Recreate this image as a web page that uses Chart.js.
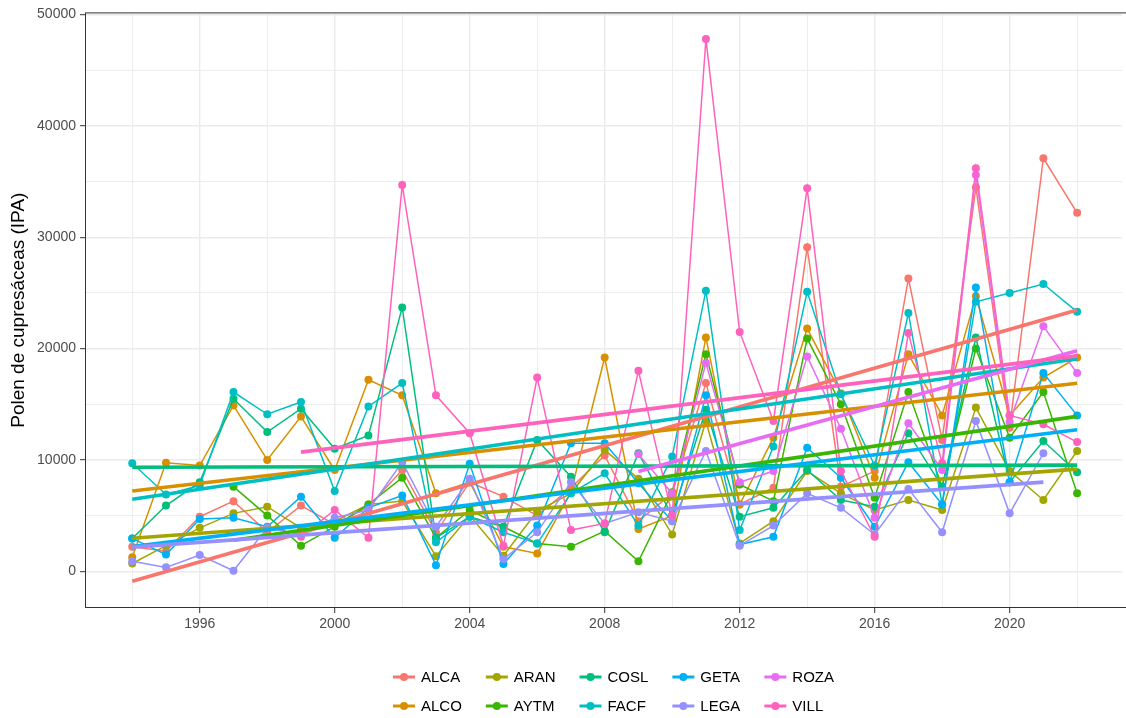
<!DOCTYPE html>
<html>
<head>
    <title>Polen de cupresáceas</title>
    <meta charset="UTF-8">
    <script src="https://cdn.jsdelivr.net/npm/chart.js"></script>
    <style>
        html, body { margin: 0; padding: 0; background: #fff; }
    </style>
</head>
<body>
    <canvas id="polenChart" width="1126" height="718"></canvas>

    <script>
        // years on the x axis
        const years = [1994, 1995, 1996, 1997, 1998, 1999, 2000, 2001, 2002, 2003, 2004, 2005, 2006, 2007, 2008,
                       2009, 2010, 2011, 2012, 2013, 2014, 2015, 2016, 2017, 2018, 2019, 2020, 2021, 2022];

        // pollen index per station (null = no data that year)
        const ALCA = [2200, 1800, 4900, 6300, 3500, 5900, 4200, 5800, 9100, 3500, 8000, 6700, 5000, 7500, 10400,
                      4500, 7000, 16900, 6000, 7500, 29100, 7600, 9000, 26300, 11800, 34500, 12900, 37100, 32200];
        const ALCO = [1250, 9750, 9500, 14900, 10000, 13900, 9100, 17200, 15800, 7000, 8000, 2200, 1600, 7100, 19200,
                      3800, 5000, 21000, 6000, 12000, 21800, 16000, 8400, 19500, 14000, 24700, 14000, 17400, 19200];
        const ARAN = [700, 2300, 3900, 5200, 5800, 3900, 4500, 6000, 6300, 1350, 5000, 1400, 5400, 7000, 10900,
                      8300, 3300, 13500, 2500, 4500, 9000, 7000, 5500, 6400, 5500, 14700, 9000, 6400, 10800];
        const AYTM = [null, null, null, 7600, 5000, 2300, 4000, 6000, 8400, 3000, 5500, 4000, 2500, 2200, 3600,
                      900, 7100, 19500, 7800, 6300, 20900, 15000, 6600, 16100, 7600, 20000, 12000, 16100, 7000];
        const COSL = [2950, 5900, 8000, 15500, 12500, 14600, 11000, 12200, 23700, 3000, 4900, 4000, 11800, 8500, 3500,
                      10600, 5000, 14500, 4900, 5700, 9100, 6400, 5800, 12400, 7600, 21000, 8000, 11700, 8900];
        const FACF = [9700, 6900, 7700, 16100, 14100, 15200, 7200, 14800, 16900, 2600, 4900, 3500, 2500, 7000, 8800,
                      4100, 10300, 25200, 3700, 11200, 25100, 15900, 9500, 23200, 6000, 24200, 25000, 25800, 23300];
        const GETA = [2950, 1500, 4700, 4800, 4000, 6700, 3000, 5700, 6800, 550, 9650, 650, 4100, 11500, 11500,
                      7900, 4500, 15800, 2400, 3100, 11100, 8400, 4000, 9800, 6000, 25500, 8000, 17800, 14000];
        const LEGA = [900, 350, 1450, 50, 3900, 3300, 4800, 5500, 9800, 4000, 8300, 1100, 3500, 8000, 4300,
                      5300, 4500, 10800, 2300, 4100, 7000, 5700, 3300, 7400, 3500, 13500, 5200, 10600, null];
        const ROZA = [null, null, null, null, null, null, null, null, null, null, null, null, null, null, null,
                      10500, 7000, 18700, 8000, 9000, 19300, 12800, 4800, 13300, 9100, 35600, 13400, 22000, 17800];
        const VILL = [null, null, null, null, null, 3100, 5500, 3000, 34700, 15800, 12400, 2300, 17400, 3700, 4300,
                      18000, 5000, 47800, 21500, 13500, 34400, 9000, 3100, 21400, 9700, 36200, 14000, 13200, 11600];

        const stations = ['ALCA', 'ALCO', 'ARAN', 'AYTM', 'COSL', 'FACF', 'GETA', 'LEGA', 'ROZA', 'VILL'];
        const values = [ALCA, ALCO, ARAN, AYTM, COSL, FACF, GETA, LEGA, ROZA, VILL];
        const colors = ['#F8766D', '#D89000', '#A3A500', '#39B600', '#00BF7D',
                        '#00BFC4', '#00B0F6', '#9590FF', '#E76BF3', '#FF62BC'];

        // least squares line over the years a station has data
        function fitLine(pts) {
            const n = pts.length;
            const mx = pts.reduce((s, p) => s + p.x, 0) / n;
            const my = pts.reduce((s, p) => s + p.y, 0) / n;
            let sxy = 0, sxx = 0;
            pts.forEach(p => { sxy += (p.x - mx) * (p.y - my); sxx += (p.x - mx) * (p.x - mx); });
            const b = sxy / sxx, a = my - b * mx;
            const x0 = pts[0].x, x1 = pts[n - 1].x;
            return [{x: x0, y: a + b * x0}, {x: x1, y: a + b * x1}];
        }

        const datasets = [];
        stations.forEach((name, i) => {
            const pts = years.map((yr, j) => ({x: yr, y: values[i][j]})).filter(p => p.y !== null);
            datasets.push({
                label: name,
                data: pts,
                borderColor: colors[i],
                backgroundColor: colors[i],
                borderWidth: 1.5,
                pointRadius: 4,
                pointBorderWidth: 0,
                order: 40 - i
            });
            datasets.push({
                label: name + ' lm',
                data: fitLine(pts),
                borderColor: colors[i],
                borderWidth: 3.6,
                pointRadius: 0,
                order: 20 - i
            });
        });

        const legendRows = [['ALCA', 'ARAN', 'COSL', 'GETA', 'ROZA'], ['ALCO', 'AYTM', 'FACF', 'LEGA', 'VILL']];

        const panelBorder = {
            id: 'panelBorder',
            afterDraw(chart) {
                const {ctx, chartArea} = chart;
                ctx.save();
                ctx.strokeStyle = '#333333';
                ctx.lineWidth = 1;
                ctx.strokeRect(chartArea.left + 0.5, chartArea.top + 0.5, chartArea.width + 4, chartArea.height - 1);
                ctx.restore();
            }
        };

        const bottomLegend = {
            id: 'bottomLegend',
            afterDraw(chart) {
                const {ctx, chartArea} = chart;
                ctx.save();
                ctx.font = '15px "Liberation Sans", Arial, sans-serif';
                ctx.textBaseline = 'middle';
                const keyW = 22, gap = 6, spacing = 24;
                const colW = [0, 1, 2, 3, 4].map(c =>
                    keyW + gap + Math.max(...legendRows.map(r => ctx.measureText(r[c]).width)) + spacing);
                const total = colW.reduce((s, w) => s + w, 0) - spacing;
                let x = (chartArea.left + chartArea.right) / 2 - total / 2 + 10;
                colW.forEach((w, c) => {
                    legendRows.forEach((row, r) => {
                        const name = row[c];
                        const col = colors[stations.indexOf(name)];
                        const y = 677 + r * 29;
                        ctx.strokeStyle = col;
                        ctx.lineWidth = 3;
                        ctx.beginPath();
                        ctx.moveTo(x, y);
                        ctx.lineTo(x + keyW, y);
                        ctx.stroke();
                        ctx.fillStyle = col;
                        ctx.beginPath();
                        ctx.arc(x + keyW / 2, y, 4, 0, Math.PI * 2);
                        ctx.fill();
                        ctx.fillStyle = '#000';
                        ctx.fillText(name, x + keyW + gap, y + 1);
                    });
                    x += w;
                });
                ctx.restore();
            }
        };

        const tickFont = {family: '"Liberation Sans", Arial, sans-serif', size: 14};

        new Chart(document.getElementById('polenChart'), {
            type: 'line',
            data: {datasets: datasets},
            options: {
                responsive: false,
                animation: false,
                devicePixelRatio: 1,
                layout: {padding: {top: 12, right: 0, bottom: 80, left: 0}},
                plugins: {legend: {display: false}, tooltip: {enabled: false}},
                scales: {
                    x: {
                        type: 'linear',
                        min: 1992.6,
                        max: 2023.33,
                        afterBuildTicks: axis => {
                            axis.ticks = [];
                            for (let v = 1994; v <= 2022; v += 2) axis.ticks.push({value: v});
                        },
                        afterFit: axis => { axis.height = 30; },
                        ticks: {
                            autoSkip: false,
                            maxRotation: 0,
                            color: '#4D4D4D',
                            font: tickFont,
                            padding: 3,
                            callback: v => ((v - 1996) % 4 === 0 ? String(v) : '')
                        },
                        grid: {
                            color: '#EBEBEB',
                            lineWidth: c => ((c.tick.value - 1996) % 4 === 0 ? 1.4 : 0.9),
                            tickLength: 5,
                            tickColor: c => ((c.tick.value - 1996) % 4 === 0 ? '#333333' : 'rgba(0,0,0,0)'),
                            tickWidth: 1
                        },
                        border: {display: false}
                    },
                    y: {
                        min: -3300,
                        max: 50200,
                        afterBuildTicks: axis => {
                            axis.ticks = [];
                            for (let v = 0; v <= 50000; v += 5000) axis.ticks.push({value: v});
                        },
                        afterFit: axis => { axis.width = 85; },
                        title: {
                            display: true,
                            text: 'Polen de cupresáceas (IPA)',
                            color: '#000',
                            font: {family: '"Liberation Sans", Arial, sans-serif', size: 19},
                            padding: {top: 7, bottom: 0}
                        },
                        ticks: {
                            color: '#4D4D4D',
                            font: tickFont,
                            padding: 4,
                            callback: v => (v % 10000 === 0 ? String(v) : '')
                        },
                        grid: {
                            color: '#EBEBEB',
                            lineWidth: c => (c.tick.value % 10000 === 0 ? 1.4 : 0.9),
                            tickLength: 5,
                            tickColor: c => (c.tick.value % 10000 === 0 ? '#333333' : 'rgba(0,0,0,0)'),
                            tickWidth: 1
                        },
                        border: {display: false}
                    }
                }
            },
            plugins: [panelBorder, bottomLegend]
        });
    </script>
</body>
</html>
